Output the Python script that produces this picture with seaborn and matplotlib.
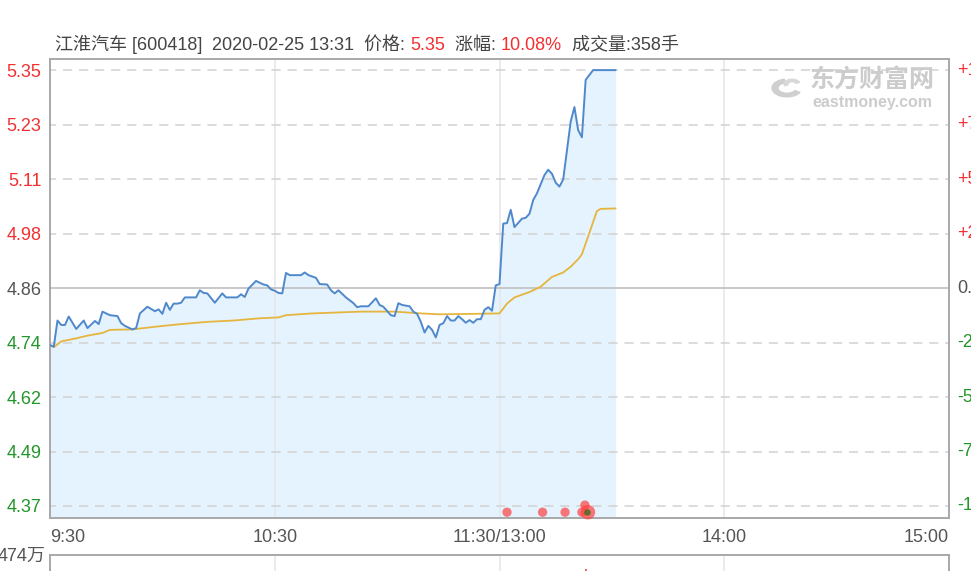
import matplotlib
matplotlib.use('Agg')
import matplotlib.pyplot as plt
import matplotlib.transforms as mtransforms
from matplotlib.patches import Wedge
import seaborn as sns
import pandas as pd

# minutes since 9:30 (120 = 11:30/13:00), price
price_t = [0, 1, 2, 3, 4, 5, 6, 7, 9, 10, 12, 13, 14, 16, 18, 19, 20, 22, 23, 24,
           26, 28, 29, 30, 31, 32, 33, 34, 35, 36, 39, 40, 41, 42, 44, 46, 47, 50, 51, 52,
           53, 55, 57, 58, 59, 60, 61, 62, 63, 64, 67, 68, 69, 71, 72, 74, 75, 76, 77, 79,
           81, 82, 83, 85, 87, 88, 89, 91, 92, 93, 94, 96, 97, 98, 99, 100, 101, 102, 103, 104,
           105, 106, 107, 108, 109, 110, 111, 112, 113, 114, 115, 116, 117, 118, 119, 120, 121, 122, 123, 124,
           126, 127, 128, 129, 130, 132, 133, 134, 135, 136, 137, 139, 140, 141, 142, 143, 145, 151]
price = [4.732, 4.728, 4.787, 4.777, 4.777, 4.796, 4.782, 4.768, 4.787, 4.770, 4.786, 4.779, 4.807, 4.799, 4.797, 4.781, 4.775, 4.767, 4.770, 4.803,
         4.818, 4.808, 4.812, 4.802, 4.827, 4.811, 4.825, 4.825, 4.827, 4.839, 4.839, 4.855, 4.849, 4.848, 4.827, 4.848, 4.839, 4.839, 4.846, 4.840,
         4.859, 4.876, 4.868, 4.866, 4.857, 4.854, 4.849, 4.848, 4.894, 4.889, 4.889, 4.895, 4.889, 4.883, 4.869, 4.868, 4.855, 4.848, 4.855, 4.839,
         4.826, 4.817, 4.819, 4.819, 4.837, 4.822, 4.818, 4.799, 4.797, 4.826, 4.822, 4.819, 4.807, 4.802, 4.784, 4.760, 4.775, 4.766, 4.749, 4.777,
         4.781, 4.797, 4.787, 4.787, 4.797, 4.790, 4.782, 4.788, 4.782, 4.790, 4.790, 4.811, 4.817, 4.809, 4.866, 4.869, 5.005, 5.006, 5.036, 4.997,
         5.016, 5.018, 5.027, 5.058, 5.073, 5.114, 5.126, 5.117, 5.097, 5.088, 5.104, 5.234, 5.267, 5.215, 5.199, 5.328, 5.350, 5.350]

avg_t = [0, 1, 3, 7, 10, 14, 16, 22, 28, 35, 42, 49, 56, 61, 63, 70, 83, 92, 99, 104,
         113, 120, 122, 124, 128, 131, 134, 137, 139, 141, 142, 144, 146, 147, 151]
avg_price = [4.732, 4.727, 4.740, 4.747, 4.753, 4.759, 4.766, 4.767, 4.773, 4.779, 4.784, 4.787, 4.792, 4.794, 4.799, 4.803, 4.807, 4.807, 4.803, 4.801,
             4.802, 4.803, 4.825, 4.839, 4.851, 4.863, 4.885, 4.895, 4.908, 4.925, 4.936, 4.984, 5.033, 5.038, 5.039]

# big-order dots along the bottom
dot_t = [122, 131.5, 137.5, 142, 142.8, 143.6]
dot_p = [4.356, 4.356, 4.356, 4.356, 4.372, 4.356]
dot_size = [45, 45, 45, 45, 45, 110]

prev_close = 4.86
ytick_vals = [4.37, 4.4925, 4.615, 4.7375, 4.86, 4.9825, 5.105, 5.2275, 5.35]
ytick_labels = ['4.37', '4.49', '4.62', '4.74', '4.86', '4.98', '5.11', '5.23', '5.35']
pct_labels = ['-10.00%', '-7.50%', '-5.00%', '-2.50%', '0.00%', '+2.50%', '+5.00%', '+7.50%', '+10.00%']
xtick_vals = [0, 60, 120, 180, 240]
xtick_labels = ['9:30', '10:30', '11:30/13:00', '14:00', '15:00']

RED = '#f23030'
GREEN = '#23962a'
GREY = '#555555'
BLUE = '#4f88cc'
GOLD = '#e6b53e'

sns.set_style('white')
plt.rcParams['font.family'] = ['Liberation Sans', 'Noto Sans CJK SC', 'DejaVu Sans']

W, H = 971, 571
fig = plt.figure(figsize=(W / 100, H / 100), dpi=100)
ax = fig.add_axes([50 / W, 1 - 518 / H, 899 / W, 459 / H])

df_p = pd.DataFrame({'t': price_t, 'price': price})
df_a = pd.DataFrame({'t': avg_t, 'price': avg_price})

ylo, yhi = 4.343, 5.375
ax.fill_between(df_p['t'], df_p['price'], ylo, color='#e4f3fd', zorder=1, lw=0)

# grid
for v in ytick_vals:
    if v == prev_close:
        ax.axhline(v, color='#c4c4c4', lw=1.3, zorder=2)
    else:
        ax.axhline(v, color='#d2d2d2', lw=1.1, ls=(2, (6, 4.5)), zorder=2)
for v in [60, 120, 180]:
    ax.axvline(v, color='#e6e6e6', lw=1.1, zorder=1.5)

sns.lineplot(data=df_a, x='t', y='price', ax=ax, color=GOLD, lw=1.3, zorder=3)
sns.lineplot(data=df_p, x='t', y='price', ax=ax, color=BLUE, lw=1.4, zorder=4)
ax.scatter(dot_t, dot_p, s=dot_size, color='#ff4040', alpha=0.7, lw=0, zorder=5, clip_on=False)
ax.scatter([143.3], [4.356], s=22, color='#3d6b1e', alpha=0.8, lw=0, zorder=6, clip_on=False)

ax.set_xlim(0, 240)
ax.set_ylim(ylo, yhi)
ax.set_xlabel('')
ax.set_ylabel('')

ax.set_yticks(ytick_vals)
ax.set_yticklabels(ytick_labels, fontsize=13)
for lbl, v in zip(ax.get_yticklabels(), ytick_vals):
    lbl.set_color(RED if v > prev_close else (GREEN if v < prev_close else GREY))
ax.tick_params(axis='y', length=0, pad=6)

ax.set_xticks(xtick_vals)
ax.set_xticklabels(xtick_labels, fontsize=13, color=GREY)
ax.tick_params(axis='x', length=0, pad=8)
xl = ax.get_xticklabels()
xl[0].set_ha('left')
xl[-1].set_ha('right')

for s in ax.spines.values():
    s.set_color('#a8a8a8')
    s.set_linewidth(1.4)

# right-side percentage labels (cut by the edge, as in the screenshot)
trans = mtransforms.blended_transform_factory(ax.transAxes, ax.transData)
for v, lab in zip(ytick_vals, pct_labels):
    c = RED if v > prev_close else (GREEN if v < prev_close else GREY)
    ax.text(1 + 8 / 899, v, lab, transform=trans, ha='left', va='center',
            fontsize=13, color=c, clip_on=False)

# watermark
logo_c = (787 / W, 1 - 88 / H)
fig.patches.append(Wedge(logo_c, 15 / W, 100, 330, width=6 / W, transform=fig.transFigure,
                         color='#cfcfcf', figure=fig))
fig.patches.append(Wedge((792 / W, 1 - 84 / H), 8 / W, 20, 200, width=4 / W, transform=fig.transFigure,
                         color='#d8d8d8', figure=fig))
fig.text(810 / W, 1 - 80 / H, '东方财富网', fontsize=18, fontweight='bold', color='#cccccc',
         va='center', ha='left', family=['Noto Sans CJK SC'])
fig.text(812 / W, 1 - 103 / H, 'eastmoney.com', fontsize=11.5, fontweight='bold', color='#cccccc',
         va='center', ha='left')

# header line
parts = [('  2020-02-25 13:31  价格: ', '#444444'),
         ('5.35', RED),
         ('  涨幅: ', '#444444'),
         ('10.08%', RED),
         ('  成交量:358手', '#444444')]
prev = fig.text(55 / W, 1 - 50 / H, '江淮汽车 [600418]', color='#444444', fontsize=13,
                ha='left', va='baseline')
for txt, col in parts:
    prev = ax.annotate(txt, xy=(1, 0), xycoords=prev, xytext=(0, 0), textcoords='offset points',
                       ha='left', va='bottom', fontsize=13, color=col, annotation_clip=False)

# volume panel (cut off at the bottom)
ax2 = fig.add_axes([50 / W, -30 / H, 899 / W, 46 / H])
ax2.set_xlim(0, 240)
ax2.set_ylim(0, 100)
for v in [60, 120, 180]:
    ax2.axvline(v, color='#e6e6e6', lw=1.1)
ax2.bar([143], [72], width=0.9, color=RED)
ax2.set_xticks([])
ax2.set_yticks([])
for s in ax2.spines.values():
    s.set_color('#a8a8a8')
    s.set_linewidth(1.4)
fig.text(45 / W, 1 - 556 / H, '474万', ha='right', va='center', fontsize=13, color=GREY)

fig.savefig('out.png', dpi=100)
